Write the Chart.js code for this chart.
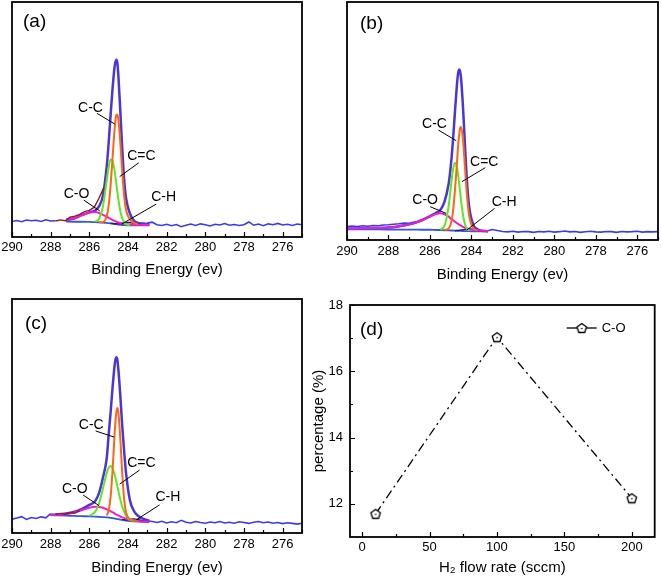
<!DOCTYPE html>
<html>
<head>
<meta charset="utf-8">
<script src="https://cdn.jsdelivr.net/npm/chart.js@4.4.0/dist/chart.umd.min.js"></script>
<style>
  html, body { margin: 0; padding: 0; background: #fff; }
  #wrap { position: relative; width: 661px; height: 579px; overflow: hidden; }
  canvas { position: absolute; }
</style>
</head>
<body>
<div id="wrap">
  <canvas id="pa" width="330" height="290" style="left:0;top:0"></canvas>
  <canvas id="pb" width="331" height="290" style="left:330px;top:0"></canvas>
  <canvas id="pc" width="330" height="289" style="left:0;top:290px"></canvas>
  <canvas id="pd" width="361" height="289" style="left:300px;top:290px"></canvas>
</div>
<script>
// binding energy grid of the fitted curves (eV)
const energyFit = [290.0, 289.0, 288.0, 287.6, 287.2, 286.8, 286.4, 286.0, 285.7, 285.5, 285.3, 285.1, 285.0, 284.9, 284.8, 284.7, 284.65, 284.6, 284.55, 284.5, 284.4, 284.3, 284.2, 284.1, 283.9, 283.7, 283.5, 283.2, 282.9];
// binding energy grid of the measured spectra (eV)
const energyRaw = [290, 289.75, 289.5, 289.25, 289, 288.75, 288.5, 288.25, 288, 287.75, 287.5, 287.25, 287, 286.75, 286.5, 286.25, 286, 285.75, 285.5, 285.25, 285, 284.75, 284.5, 284.25, 284, 283.75, 283.5, 283.25, 283, 282.75, 282.5, 282.25, 282, 281.75, 281.5, 281.25, 281, 280.75, 280.5, 280.25, 280, 279.75, 279.5, 279.25, 279, 278.75, 278.5, 278.25, 278, 277.75, 277.5, 277.25, 277, 276.75, 276.5, 276.25, 276, 275.75, 275.5, 275.25, 275];
const energyTicks = [290, 288, 286, 284, 282, 280, 278, 276];
const energyMinor = [289, 287, 285, 283, 281, 279, 277, 275];

// (a)
const rawA = [6.6, 7.0, 6.5, 7.2, 6.9, 7.1, 6.6, 7.3, 6.8, 6.9, null, null, null, null, null, null, null, null, null, null, null, null, null, null, null, null, null, null, 5.9, 6.3, 5.2, 4.9, 5.4, 4.8, 5.3, 4.4, 5.0, 5.5, 4.9, 5.6, 5.2, 4.7, 5.4, 5.1, 5.7, 5.0, 5.3, 4.9, 5.2, 6.4, 5.0, 5.5, 4.8, 5.6, 5.2, 5.8, 5.1, 5.4, 4.9, 5.5, 5.2];
const rawRedA = [null, null, null, null, null, null, null, null, null, 6.8, 7.3, 6.9, 8.4, 8.9, 9.6, 10.8, 11.3, 12.6, 16.5, 21.0, null, null, null, null, null, null, null, null, null, null, null, null, null, null, null, null, null, null, null, null, null, null, null, null, null, null, null, null, null, null, null, null, null, null, null, null, null, null, null, null, null];
const envA = [null, null, null, null, 7.2, 7.9, 9.3, 10.5, 11.3, 13.0, 17.5, 30.0, 40.0, 52.0, 63.0, 72.0, 74.5, 75.4, 74.0, 69.0, 54.0, 38.0, 24.5, 16.5, 10.0, 7.0, 6.0, 5.7, 5.5];
const bgA = [null, null, null, null, 6.6, 6.5, 6.5, 6.4, 6.3, 6.2, 6.1, 6.0, 5.9, 5.8, 5.7, 5.5, 5.45, 5.4, 5.35, 5.3, 5.2, 5.1, 5.1, 5.0, 5.0, 5.0, 5.0, 5.0, 5.0];
const ccA = [null, null, null, null, null, null, null, null, null, 6.25, 6.3, 8.9, 13.5, 22.0, 33.6, 45.3, 49.55, 52.0, 52.15, 50.1, 40.6, 27.9, 17.6, 11.5, 7.5, 6.0, 5.5, null, null];
const c2cA = [null, null, null, null, null, null, null, null, 6.5, 7.7, 12.9, 24.1, 29.8, 33.0, 32.5, 28.4, 25.45, 22.3, 19.1, 16.1, 11.2, 8.0, 6.3, 5.4, 5.05, null, null, null, null];
const coA = [null, null, null, null, 7.2, 7.9, 9.2, 10.4, 10.6, 10.2, 9.45, 8.7, 8.2, 7.7, 7.3, 6.9, 6.7, 6.5, 6.35, 6.2, 5.95, 5.7, 5.6, 5.4, 5.3, 5.2, 5.15, 5.1, 5.1];
const chA = [null, null, null, null, null, null, null, null, null, null, null, null, null, 5.8, 5.76, 5.65, 5.65, 5.65, 5.68, 5.7, 5.8, 5.9, 6.1, 6.16, 6.16, 5.8, 5.4, 5.08, 5.0];

// (b)
const rawB = [5.6, 5.9, 5.7, 6.0, 5.8, 6.1, 6.0, 6.3, 6.4, 6.6, 6.8, 7.1, 7.0, 7.5, 7.8, 8.9, 9.8, 11.2, null, null, null, null, null, null, null, null, null, 3.8, 4.4, 4.0, 3.6, 3.4, 3.7, 3.3, 3.6, 3.5, 3.2, 3.6, 3.4, 3.7, 3.3, 3.5, 3.8, 3.4, 3.6, 3.2, 3.5, 3.7, 3.4, 3.3, 3.6, 3.5, 3.2, 3.6, 3.4, 3.5, 3.7, 3.3, 3.5, 3.4, 3.5];
const envB = [4.8, 5.0, 5.3, 5.6, 6.2, 7.0, 8.3, 10.0, 11.4, 12.6, 16.0, 23.5, 30.5, 40.5, 53.0, 65.0, 69.5, 71.6, 71.0, 68.0, 55.0, 38.0, 23.0, 13.5, 6.2, 4.5, 3.9, 3.7, null];
const bgB = [4.5, 4.5, 4.4, 4.4, 4.4, 4.4, 4.3, 4.3, 4.2, 4.2, 4.1, 4.1, 4.0, 4.0, 3.9, 3.9, 3.85, 3.8, 3.8, 3.8, 3.7, 3.7, 3.7, 3.7, 3.6, 3.6, 3.6, 3.6, null];
const ccB = [null, null, null, null, null, null, null, null, null, null, 4.15, 4.8, 6.5, 11.1, 20.1, 32.0, 38.45, 43.4, 46.8, 47.6, 41.5, 29.3, 17.3, 9.9, 4.8, 4.1, null, null, null];
const c2cB = [null, null, null, null, null, null, null, null, null, 4.35, 5.9, 14.1, 21.6, 28.8, 32.5, 30.8, 27.95, 24.4, 20.5, 16.6, 10.2, 6.4, 4.6, 3.95, null, null, null, null, null];
const coB = [4.8, 5.0, 5.3, 5.6, 6.2, 7.0, 8.3, 9.9, 10.9, 11.2, 10.8, 9.8, 9.0, 8.4, 7.7, 7.1, 6.8, 6.5, 6.25, 6.0, 5.5, 5.1, 4.85, 4.6, 4.2, 4.0, 3.9, 3.8, null];
const chB = [null, null, null, null, null, null, null, null, null, null, null, null, null, null, 3.9, 4.0, 4.02, 4.05, 4.12, 4.2, 4.3, 4.5, 4.64, 4.7, 4.4, 4.0, 3.73, 3.6, null];

// (c)
const rawC = [5.9, 6.4, 7.0, 5.8, 6.6, 6.2, 6.9, 6.5, 8.3, null, null, null, null, null, null, null, null, null, null, null, null, null, null, null, null, null, null, null, 5.2, 4.9, 4.5, 5.0, 4.3, 4.8, 4.4, 5.4, 4.6, 4.3, 4.9, 4.5, 4.2, 4.7, 4.4, 4.9, 4.3, 4.6, 4.2, 4.8, 4.5, 4.1, 4.6, 4.9, 4.4, 4.7, 4.2, 4.5, 4.0, 4.4, 4.1, 3.8, 4.2];
const rawRedC = [null, null, null, null, null, null, null, null, null, 7.9, 8.4, 8.0, 8.7, 8.5, 9.6, null, null, null, null, null, null, null, null, null, null, null, null, null, null, null, null, null, null, null, null, null, null, null, null, null, null, null, null, null, null, null, null, null, null, null, null, null, null, null, null, null, null, null, null, null, null];
const envC = [null, null, 7.8, 7.9, 8.3, 9.0, 10.2, 12.0, 13.6, 17.0, 23.5, 32.0, 42.0, 51.5, 62.0, 71.0, 74.0, 75.1, 74.0, 70.0, 59.0, 46.0, 35.0, 25.5, 14.0, 9.5, 7.5, 6.0, 5.3];
const bgC = [null, null, 7.6, 7.5, 7.4, 7.3, 7.2, 7.1, 7.0, 6.9, 6.8, 6.7, 6.6, 6.5, 6.4, 6.2, 6.1, 6.0, 5.95, 5.9, 5.7, 5.6, 5.5, 5.3, 5.1, 5.0, 4.9, 4.8, 4.8];
const ccC = [null, null, null, null, null, null, null, null, null, null, null, 7.5, 9.6, 15.4, 26.6, 41.1, 47.5, 51.9, 53.45, 51.8, 40.6, 25.8, 14.4, 8.8, 5.9, 5.4, 5.1, null, null];
const c2cC = [null, null, null, null, null, null, null, 7.3, 9.0, 12.6, 18.9, 25.7, 27.9, 28.6, 27.7, 25.2, 23.6, 21.7, 19.95, 18.0, 14.4, 11.3, 9.1, 7.3, 5.6, 5.1, null, null, null];
const coC = [null, null, 7.8, 7.85, 8.05, 8.65, 9.7, 10.8, 11.25, 11.15, 10.8, 10.1, 9.7, 9.3, 8.9, 8.35, 8.1, 7.85, 7.65, 7.5, 7.05, 6.7, 6.45, 6.1, 5.65, 5.4, 5.15, 4.95, 4.9];
const chC = [null, null, null, null, null, null, null, null, null, null, null, null, null, null, null, null, null, null, null, null, null, 5.6, 5.7, 5.6, 5.8, 6.0, 5.8, 5.1, 4.85];

// (d)
const flowRate = [10, 100, 200];
const coPercent = [11.7, 17.03, 12.17];
const flowTicks = [0, 50, 100, 150, 200];
const flowMinor = [25, 75, 125, 175];
const pctTicks = [12, 14, 16, 18];
const pctMinor = [13, 15, 17];

Chart.defaults.font.family = '"Liberation Sans", Arial, sans-serif';
Chart.defaults.color = '#000';
const FONT = '"Liberation Sans", Arial, sans-serif';

const pts = (xs, ys) => xs.map((x, i) => ({ x: x, y: ys[i] }));

function curve(label, xs, ys, color, width, smooth) {
  return {
    label: label, data: pts(xs, ys), borderColor: color, borderWidth: width,
    pointRadius: 0, fill: false, tension: 0, spanGaps: false,
    cubicInterpolationMode: smooth ? 'monotone' : 'default'
  };
}

function pentagon() {
  const c = document.createElement('canvas');
  c.width = 16; c.height = 16;
  const g = c.getContext('2d');
  const R = 5, cx = 8, cy = 8.45;
  g.beginPath();
  for (let k = 0; k < 5; k++) {
    const t = -Math.PI / 2 + k * 2 * Math.PI / 5;
    const px = cx + R * Math.cos(t), py = cy + R * Math.sin(t);
    if (k) g.lineTo(px, py); else g.moveTo(px, py);
  }
  g.closePath();
  g.fillStyle = '#fff'; g.fill();
  g.lineWidth = 1.3; g.strokeStyle = '#000'; g.stroke();
  g.beginPath(); g.arc(cx, cy, 0.8, 0, 2 * Math.PI); g.fillStyle = '#000'; g.fill();
  return c;
}
const pent = pentagon();

// frame, inward ticks, panel tag, labels and leaders
const framePlugin = {
  id: 'frame',
  afterDraw(chart, args, o) {
    const { ctx, chartArea: a } = chart;
    const x = chart.scales.x, y = chart.scales.y;
    ctx.save();
    ctx.strokeStyle = '#000';
    ctx.fillStyle = '#000';
    ctx.lineWidth = 1.2;
    ctx.beginPath();
    [[o.xMajor, 5], [o.xMinor, 3]].forEach(([vals, len]) => vals.forEach(v => {
      const px = Math.round(x.getPixelForValue(v)) + 0.5;
      ctx.moveTo(px, a.bottom); ctx.lineTo(px, a.bottom - len);
    }));
    if (o.yMajor) {
      [[o.yMajor, 5], [o.yMinor, 3]].forEach(([vals, len]) => vals.forEach(v => {
        const py = Math.round(y.getPixelForValue(v)) + 0.5;
        ctx.moveTo(a.left, py); ctx.lineTo(a.left + len, py);
      }));
    }
    ctx.stroke();
    ctx.lineWidth = 1.8;
    ctx.strokeRect(a.left, a.top, a.right - a.left, a.bottom - a.top);

    ctx.font = '19px ' + FONT;
    ctx.textBaseline = 'middle';
    ctx.textAlign = 'left';
    ctx.fillText(o.tag, a.left + o.tagAt[0], a.top + o.tagAt[1]);

    if (o.notes) {
      ctx.font = '14px ' + FONT;
      ctx.textAlign = 'center';
      ctx.lineWidth = 1;
      o.notes.forEach(([t, tx, ty, x1, y1, x2, y2]) => {
        ctx.fillText(t, x.getPixelForValue(tx), y.getPixelForValue(ty));
        ctx.beginPath();
        ctx.moveTo(x.getPixelForValue(x1), y.getPixelForValue(y1));
        ctx.lineTo(x.getPixelForValue(x2), y.getPixelForValue(y2));
        ctx.stroke();
      });
    }
    if (o.legend) {
      const lx = a.right - 88, ly = a.top + 23;
      ctx.lineWidth = 1.3;
      ctx.beginPath(); ctx.moveTo(lx, ly); ctx.lineTo(lx + 30, ly); ctx.stroke();
      ctx.drawImage(pent, lx + 15 - 8, ly - 8);
      ctx.font = '13px ' + FONT;
      ctx.textAlign = 'left';
      ctx.fillText(chart.data.datasets[0].label, lx + 35, ly);
    }
    ctx.restore();
  }
};

function xpsChart(id, p) {
  const datasets = [
    curve('raw (fit range)', energyRaw, p.red || [], '#8e1c1c', 1.4, false),
    curve('C-C', energyFit, p.cc, '#ff6610', 2, true),
    curve('C=C', energyFit, p.c2c, '#5de81e', 2, true),
    curve('C-O', energyFit, p.co, '#f01ccf', 2, true),
    curve('C-H', energyFit, p.ch, '#202070', 1.5, true),
    curve('background', energyFit, p.bg, '#3358e0', 1.8, true),
    curve('envelope', energyFit, p.env, '#4a35d8', 2.5, true),
    curve('raw', energyRaw, p.raw, '#3a3af0', 1.6, false)
  ];
  return new Chart(document.getElementById(id), {
    type: 'line',
    data: { datasets: datasets },
    plugins: [framePlugin],
    options: {
      responsive: false, animation: false, events: [], devicePixelRatio: 1,
      layout: { padding: p.pad },
      plugins: {
        legend: { display: false }, tooltip: { enabled: false },
        frame: { xMajor: energyTicks, xMinor: energyMinor, tag: p.tag, tagAt: p.tagAt, notes: p.notes }
      },
      scales: {
        x: {
          type: 'linear', reverse: true, min: 275, max: 290,
          grid: { display: false, drawTicks: false }, border: { display: false },
          afterBuildTicks: s => { s.ticks = energyTicks.map(v => ({ value: v })); },
          afterFit: s => { s.height = p.xh; s.paddingLeft = 0; s.paddingRight = 0; },
          ticks: { color: '#000', font: { size: 13 }, padding: p.tp, maxRotation: 0, autoSkip: false },
          title: { display: true, text: 'Binding Energy (ev)', color: '#000', font: { size: 15 }, padding: { top: 0, bottom: p.tb } }
        },
        y: { type: 'linear', min: 0, max: 100, display: false }
      }
    }
  });
}

xpsChart('pa', {
  raw: rawA, red: rawRedA, env: envA, bg: bgA, cc: ccA, c2c: c2cA, co: coA, ch: chA,
  pad: { left: 12, top: 2, right: 28, bottom: 0 }, xh: 53, tp: 3, tb: 11,
  tag: '(a)', tagAt: [11, 20],
  notes: [
    ['C-C', 285.94, 55.0, 285.60, 52.6, 284.69, 48.1],
    ['C=C', 283.31, 34.6, 283.44, 31.6, 284.43, 25.7],
    ['C-O', 286.66, 18.3, 286.29, 15.7, 285.46, 11.1],
    ['C-H', 282.16, 17.1, 282.54, 14.0, 284.35, 5.4]
  ]
});

xpsChart('pb', {
  raw: rawB, env: envB, bg: bgB, cc: ccB, c2c: c2cB, co: coB, ch: chB,
  pad: { left: 17, top: 2, right: 3, bottom: 0 }, xh: 50, tp: 4, tb: 6,
  tag: '(b)', tagAt: [13, 22],
  notes: [
    ['C-C', 285.78, 48.7, 285.59, 46.2, 284.73, 41.7],
    ['C=C', 283.38, 32.6, 283.33, 30.4, 284.46, 24.5],
    ['C-O', 286.23, 16.8, 285.99, 14.0, 285.22, 11.2],
    ['C-H', 282.42, 16.1, 282.88, 13.3, 284.22, 4.2]
  ]
});

xpsChart('pc', {
  raw: rawC, red: rawRedC, env: envC, bg: bgC, cc: ccC, c2c: c2cC, co: coC, ch: chC,
  pad: { left: 12, top: 9, right: 28, bottom: 0 }, xh: 46, tp: 4, tb: 2,
  tag: '(c)', tagAt: [13, 25],
  notes: [
    ['C-C', 285.90, 46.2, 285.67, 43.6, 284.72, 41.0],
    ['C=C', 283.31, 30.0, 283.40, 26.9, 284.43, 20.9],
    ['C-O', 286.75, 18.8, 286.32, 16.2, 285.50, 11.7],
    ['C-H', 281.94, 15.3, 282.37, 12.0, 283.57, 5.6]
  ]
});

new Chart(document.getElementById('pd'), {
  type: 'line',
  data: {
    datasets: [{
      label: 'C-O', data: pts(flowRate, coPercent),
      borderColor: '#000', borderWidth: 1.3, borderDash: [9, 4, 2, 4],
      pointStyle: pent, pointRadius: 5, tension: 0, fill: false
    }]
  },
  plugins: [framePlugin],
  options: {
    responsive: false, animation: false, events: [], devicePixelRatio: 1,
    layout: { padding: { left: 0, top: 15, right: 6, bottom: 0 } },
    plugins: {
      legend: { display: false }, tooltip: { enabled: false },
      frame: { xMajor: flowTicks, xMinor: flowMinor, yMajor: pctTicks, yMinor: pctMinor, tag: '(d)', tagAt: [10, 25], legend: true }
    },
    scales: {
      x: {
        type: 'linear', min: -9, max: 217,
        grid: { display: false, drawTicks: false }, border: { display: false },
        afterBuildTicks: s => { s.ticks = flowTicks.map(v => ({ value: v })); },
        afterFit: s => { s.height = 42; s.paddingLeft = 0; s.paddingRight = 0; },
        ticks: { color: '#000', font: { size: 13 }, padding: 3, maxRotation: 0, autoSkip: false },
        title: { display: true, text: 'H\u2082 flow rate (sccm)', color: '#000', font: { size: 15 }, padding: { top: 0, bottom: 2 } }
      },
      y: {
        type: 'linear', min: 11, max: 18,
        grid: { display: false, drawTicks: false }, border: { display: false },
        afterBuildTicks: s => { s.ticks = pctTicks.map(v => ({ value: v })); },
        afterFit: s => { s.width = 50; s.paddingTop = 0; s.paddingBottom = 0; },
        ticks: { color: '#000', font: { size: 13 }, padding: 7, autoSkip: false },
        title: { display: true, text: 'percentage (%)', color: '#000', font: { size: 15 }, padding: { top: 9.6, bottom: 0 } }
      }
    }
  }
});
</script>
</body>
</html>
